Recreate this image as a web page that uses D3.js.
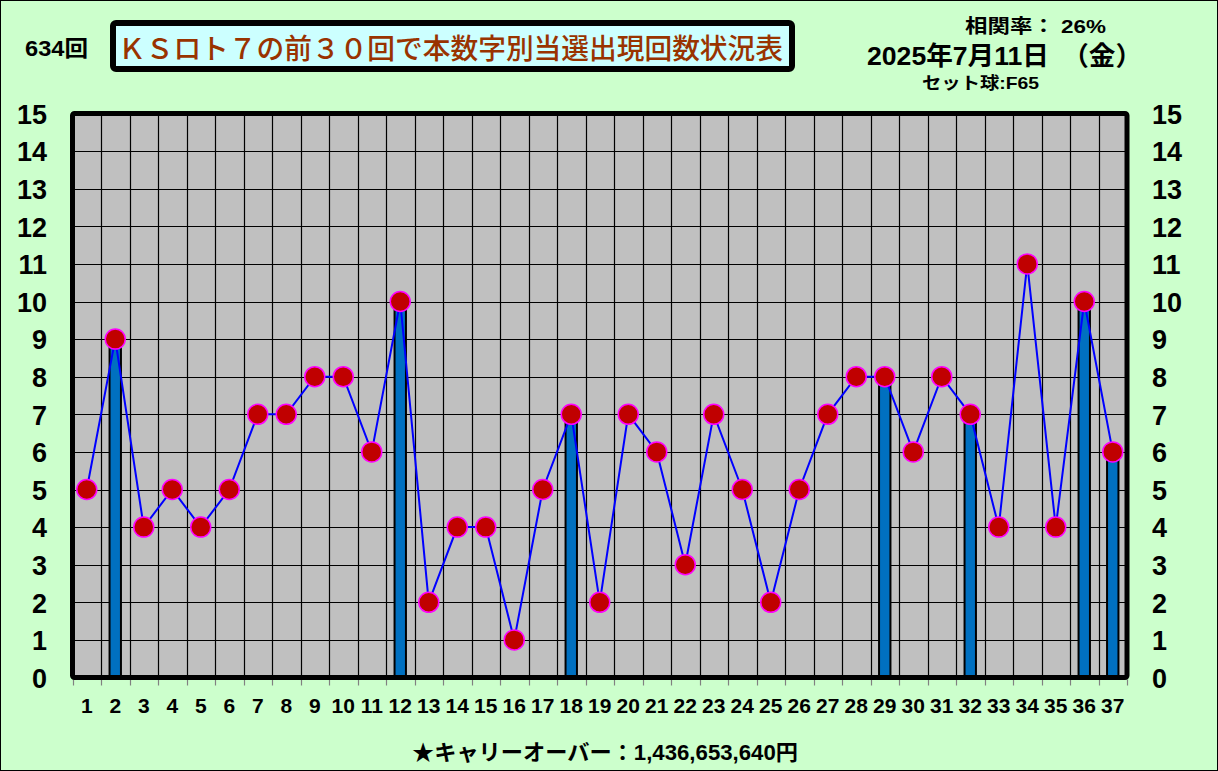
<!DOCTYPE html>
<html><head><meta charset="utf-8">
<script src="https://cdn.jsdelivr.net/npm/d3@7"></script>
<style>
html,body{margin:0;padding:0;background:#fff;}
svg{display:block;}
</style></head>
<body>
<svg id="chart" width="1218" height="771"></svg>
<script>
// ---- data ----
const numbers = d3.range(1, 38);
const counts = [5,9,4,5,4,5,7,7,8,8,6,10,2,4,4,1,5,7,2,7,6,3,7,5,2,5,7,8,8,6,8,7,4,11,4,10,6];
const winning = [2,12,18,29,32,36,37];
const yTicks = d3.range(0, 16);
const titleText = "ＫＳロト７の前３０回で本数字別当選出現回数状況表";
const drawText = "634回";
const corrText = "相関率：  26%";
const dateText = "2025年7月11日　（金）";
const setText = "セット球:F65";
const carryText = "★キャリーオーバー：1,436,653,640円";

const svg = d3.select("#chart");
const W = 1218, H = 771;
const font = "'Liberation Sans','Noto Sans CJK JP',sans-serif";
const cjk = "'Noto Sans CJK JP','Liberation Sans',sans-serif";

svg.append("rect").attr("x",0.5).attr("y",0.5).attr("width",W-1).attr("height",H-1)
  .attr("fill","#CCFFCC").attr("stroke","#000").attr("stroke-width",1);

const x = d3.scaleBand().domain(numbers).range([72.5, 1127]).paddingInner(0).paddingOuter(0);
const y = d3.scaleLinear().domain([0, 15]).range([677.5, 113.5]);
const bw = x.bandwidth();
const cx = d => x(d) + bw/2;

// plot background
svg.append("rect").attr("x", x.range()[0]).attr("y", y(15))
  .attr("width", x.range()[1]-x.range()[0]).attr("height", y(0)-y(15)).attr("fill","#C0C0C0");

// grid
const g = svg.append("g");
g.selectAll("line.h").data(yTicks.slice(1,15)).join("line")
  .attr("x1", x.range()[0]).attr("x2", x.range()[1])
  .attr("y1", d=>Math.round(y(d))+0.5).attr("y2", d=>Math.round(y(d))+0.5)
  .attr("stroke","#000").attr("stroke-width",1.2);
g.selectAll("line.v").data(numbers.slice(1)).join("line")
  .attr("x1", d=>Math.round(x(d))+0.5).attr("x2", d=>Math.round(x(d))+0.5)
  .attr("y1", y(15)).attr("y2", y(0))
  .attr("stroke","#000").attr("stroke-width",1.2);

// tick marks below at boundaries
g.selectAll("line.t").data(numbers.concat([38])).join("line")
  .attr("x1", d=> Math.round(d===38 ? x.range()[1] : x(d))+0.5)
  .attr("x2", d=> Math.round(d===38 ? x.range()[1] : x(d))+0.5)
  .attr("y1", y(0)+2).attr("y2", y(0)+8)
  .attr("stroke","#808080").attr("stroke-width",1.2);

// bars
const barW = bw*0.40;
svg.append("g").selectAll("rect").data(winning).join("rect")
  .attr("x", d=>cx(d)-barW/2).attr("y", d=>y(counts[d-1]))
  .attr("width", barW).attr("height", d=>y(0)-y(counts[d-1]))
  .attr("fill","#0070C0").attr("stroke","#000").attr("stroke-width",2);

// plot frame
svg.append("rect").attr("x", x.range()[0]).attr("y", y(15))
  .attr("width", x.range()[1]-x.range()[0]).attr("height", y(0)-y(15))
  .attr("fill","none").attr("stroke","#000").attr("stroke-width",5).attr("rx",2);

// line
const line = d3.line().x((d,i)=>cx(numbers[i])).y(d=>y(d));
svg.append("path").datum(counts).attr("d", line)
  .attr("fill","none").attr("stroke","#0000FF").attr("stroke-width",2);

// markers
svg.append("g").selectAll("circle").data(counts).join("circle")
  .attr("cx",(d,i)=>cx(numbers[i])).attr("cy", d=>y(d)).attr("r",10)
  .attr("fill","#C00000").attr("stroke","#FF00FF").attr("stroke-width",1.5);

// axes
const yl = svg.append("g").attr("transform","translate(47,0)")
  .call(d3.axisLeft(y).tickValues(yTicks).tickSize(0).tickPadding(0).tickFormat(d3.format("d")));
const yr = svg.append("g").attr("transform","translate(1152,0)")
  .call(d3.axisRight(y).tickValues(yTicks).tickSize(0).tickPadding(0).tickFormat(d3.format("d")));
[yl, yr].forEach(a=>{
  a.select(".domain").remove();
  a.selectAll("text").attr("font-family",font).attr("font-size",27).attr("font-weight","bold").attr("fill","#000").attr("dy","0.36em");
});
const xa = svg.append("g").attr("transform","translate(0,713)")
  .call(d3.axisBottom(x).tickSize(0).tickPadding(0));
xa.select(".domain").remove();
xa.selectAll("text").attr("font-family",font).attr("font-size",21).attr("font-weight","bold")
  .attr("fill","#000").attr("dy",0).attr("y",0);

// title box
svg.append("rect").attr("x",113).attr("y",23).attr("width",679).attr("height",46).attr("rx",3)
  .attr("fill","#CCFFFF").attr("stroke","#000").attr("stroke-width",6);
svg.append("text").attr("x",118).attr("y",47).attr("dominant-baseline","central")
  .attr("font-family",cjk).attr("font-size",28).attr("font-weight","500").attr("fill","#993300")
  .attr("textLength",665).attr("lengthAdjust","spacingAndGlyphs").text(titleText);

svg.append("text").attr("x",25).attr("y",56).attr("font-family",font).attr("font-size",22)
  .attr("font-weight","bold").attr("fill","#000").attr("textLength",63).attr("lengthAdjust","spacingAndGlyphs").text(drawText);

svg.append("text").attr("x",965).attr("y",33).attr("font-family",font).attr("font-size",19)
  .attr("font-weight","bold").attr("fill","#000").attr("textLength",141).attr("lengthAdjust","spacingAndGlyphs").text(corrText);
svg.append("text").attr("x",867).attr("y",65).attr("font-family",font).attr("font-size",26)
  .attr("font-weight","bold").attr("fill","#000").attr("textLength",275).attr("lengthAdjust","spacingAndGlyphs").text(dateText);
svg.append("text").attr("x",922).attr("y",89).attr("font-family",font).attr("font-size",17)
  .attr("font-weight","bold").attr("fill","#000").attr("textLength",117).attr("lengthAdjust","spacingAndGlyphs").text(setText);
svg.append("text").attr("x",412).attr("y",760).attr("font-family",font).attr("font-size",22)
  .attr("font-weight","bold").attr("fill","#000").attr("textLength",386).attr("lengthAdjust","spacingAndGlyphs").text(carryText);
</script>
</body></html>
